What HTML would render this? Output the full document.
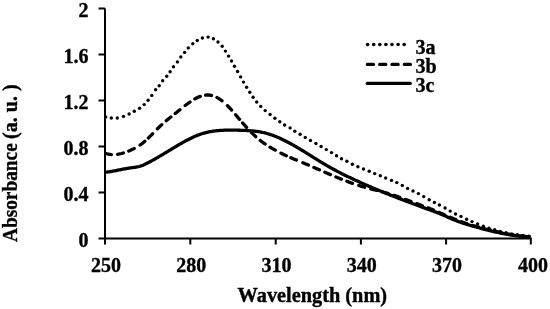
<!DOCTYPE html>
<html><head><meta charset="utf-8"><style>
html,body{margin:0;padding:0;background:#fff;width:550px;height:309px;overflow:hidden}
svg{display:block;filter:grayscale(1)}
text{font-family:"Liberation Serif",serif;font-weight:bold;font-size:20px;fill:#000;stroke:#000;stroke-width:0.35px}
circle{fill:#000}
.ax{stroke:#000;stroke-width:2;fill:none}
.c{stroke:#000;stroke-width:3.3;fill:none;stroke-linejoin:round}
</style></head><body>
<svg width="550" height="309" viewBox="0 0 550 309">
<path d="M105.00 172.29 106.00 172.19 107.00 172.08 108.00 171.95 109.00 171.81 110.00 171.66 111.00 171.50 112.00 171.33 113.00 171.15 114.00 170.97 115.00 170.78 115.99 170.58 116.99 170.39 117.99 170.19 118.99 169.98 119.99 169.78 120.99 169.58 121.99 169.38 122.99 169.18 123.99 168.98 124.99 168.80 125.99 168.61 126.99 168.44 127.99 168.27 128.99 168.11 129.99 167.96 130.99 167.82 131.99 167.70 132.99 167.57 133.99 167.44 134.99 167.30 135.99 167.14 136.98 166.96 137.98 166.76 138.98 166.52 139.98 166.25 140.98 165.93 141.98 165.57 142.98 165.18 143.98 164.75 144.98 164.29 145.98 163.81 146.98 163.31 147.98 162.80 148.98 162.27 149.98 161.74 150.98 161.20 151.98 160.66 152.98 160.10 153.98 159.54 154.98 158.98 155.98 158.41 156.98 157.84 157.98 157.26 158.97 156.68 159.97 156.09 160.97 155.50 161.97 154.91 162.97 154.31 163.97 153.71 164.97 153.11 165.97 152.51 166.97 151.91 167.97 151.30 168.97 150.70 169.97 150.09 170.97 149.49 171.97 148.88 172.97 148.28 173.97 147.68 174.97 147.08 175.97 146.48 176.97 145.88 177.97 145.29 178.97 144.70 179.96 144.12 180.96 143.54 181.96 142.97 182.96 142.40 183.96 141.84 184.96 141.29 185.96 140.74 186.96 140.21 187.96 139.69 188.96 139.17 189.96 138.67 190.96 138.18 191.96 137.70 192.96 137.23 193.96 136.78 194.96 136.34 195.96 135.92 196.96 135.51 197.96 135.12 198.96 134.74 199.96 134.38 200.95 134.04 201.95 133.72 202.95 133.42 203.95 133.13 204.95 132.86 205.95 132.60 206.95 132.36 207.95 132.14 208.95 131.93 209.95 131.73 210.95 131.55 211.95 131.38 212.95 131.23 213.95 131.09 214.95 130.96 215.95 130.84 216.95 130.73 217.95 130.63 218.95 130.54 219.95 130.47 220.95 130.40 221.95 130.34 222.94 130.29 223.94 130.24 224.94 130.21 225.94 130.18 226.94 130.16 227.94 130.14 228.94 130.13 229.94 130.13 230.94 130.12 231.94 130.13 232.94 130.14 233.94 130.15 234.94 130.16 235.94 130.18 236.94 130.19 237.94 130.21 238.94 130.23 239.94 130.26 240.94 130.28 241.94 130.31 242.94 130.34 243.93 130.38 244.93 130.42 245.93 130.46 246.93 130.51 247.93 130.57 248.93 130.63 249.93 130.70 250.93 130.78 251.93 130.86 252.93 130.96 253.93 131.06 254.93 131.17 255.93 131.30 256.93 131.43 257.93 131.58 258.93 131.74 259.93 131.91 260.93 132.09 261.93 132.28 262.93 132.50 263.93 132.72 264.92 132.96 265.92 133.21 266.92 133.49 267.92 133.77 268.92 134.07 269.92 134.39 270.92 134.72 271.92 135.06 272.92 135.42 273.92 135.79 274.92 136.17 275.92 136.57 276.92 136.98 277.92 137.40 278.92 137.83 279.92 138.28 280.92 138.73 281.92 139.20 282.92 139.67 283.92 140.16 284.92 140.65 285.92 141.16 286.91 141.67 287.91 142.19 288.91 142.72 289.91 143.26 290.91 143.81 291.91 144.36 292.91 144.92 293.91 145.49 294.91 146.06 295.91 146.64 296.91 147.23 297.91 147.82 298.91 148.42 299.91 149.02 300.91 149.62 301.91 150.23 302.91 150.84 303.91 151.46 304.91 152.08 305.91 152.70 306.91 153.32 307.90 153.95 308.90 154.57 309.90 155.20 310.90 155.83 311.90 156.46 312.90 157.09 313.90 157.71 314.90 158.34 315.90 158.96 316.90 159.59 317.90 160.21 318.90 160.82 319.90 161.44 320.90 162.05 321.90 162.65 322.90 163.25 323.90 163.85 324.90 164.44 325.90 165.02 326.90 165.60 327.90 166.17 328.89 166.74 329.89 167.30 330.89 167.86 331.89 168.41 332.89 168.96 333.89 169.50 334.89 170.03 335.89 170.57 336.89 171.10 337.89 171.62 338.89 172.14 339.89 172.65 340.89 173.16 341.89 173.67 342.89 174.18 343.89 174.67 344.89 175.17 345.89 175.66 346.89 176.15 347.89 176.64 348.89 177.12 349.88 177.60 350.88 178.07 351.88 178.55 352.88 179.02 353.88 179.48 354.88 179.95 355.88 180.41 356.88 180.87 357.88 181.33 358.88 181.78 359.88 182.23 360.88 182.68 361.88 183.13 362.88 183.58 363.88 184.02 364.88 184.46 365.88 184.90 366.88 185.33 367.88 185.77 368.88 186.20 369.88 186.63 370.88 187.06 371.87 187.48 372.87 187.91 373.87 188.33 374.87 188.75 375.87 189.17 376.87 189.58 377.87 190.00 378.87 190.41 379.87 190.82 380.87 191.23 381.87 191.64 382.87 192.05 383.87 192.46 384.87 192.86 385.87 193.26 386.87 193.67 387.87 194.07 388.87 194.46 389.87 194.86 390.87 195.26 391.87 195.65 392.86 196.05 393.86 196.44 394.86 196.83 395.86 197.22 396.86 197.61 397.86 198.00 398.86 198.39 399.86 198.77 400.86 199.16 401.86 199.54 402.86 199.92 403.86 200.30 404.86 200.68 405.86 201.06 406.86 201.44 407.86 201.82 408.86 202.20 409.86 202.57 410.86 202.95 411.86 203.32 412.86 203.69 413.85 204.07 414.85 204.44 415.85 204.81 416.85 205.18 417.85 205.55 418.85 205.92 419.85 206.28 420.85 206.65 421.85 207.02 422.85 207.38 423.85 207.75 424.85 208.12 425.85 208.48 426.85 208.84 427.85 209.21 428.85 209.57 429.85 209.93 430.85 210.29 431.85 210.66 432.85 211.02 433.85 211.39 434.85 211.76 435.84 212.13 436.84 212.51 437.84 212.90 438.84 213.29 439.84 213.69 440.84 214.10 441.84 214.52 442.84 214.95 443.84 215.39 444.84 215.84 445.84 216.29 446.84 216.74 447.84 217.19 448.84 217.64 449.84 218.08 450.84 218.52 451.84 218.95 452.84 219.38 453.84 219.79 454.84 220.19 455.84 220.58 456.83 220.96 457.83 221.34 458.83 221.70 459.83 222.05 460.83 222.40 461.83 222.74 462.83 223.07 463.83 223.40 464.83 223.72 465.83 224.03 466.83 224.34 467.83 224.64 468.83 224.94 469.83 225.23 470.83 225.52 471.83 225.81 472.83 226.09 473.83 226.37 474.83 226.65 475.83 226.93 476.83 227.21 477.82 227.48 478.82 227.75 479.82 228.03 480.82 228.30 481.82 228.56 482.82 228.83 483.82 229.09 484.82 229.35 485.82 229.61 486.82 229.87 487.82 230.12 488.82 230.37 489.82 230.62 490.82 230.86 491.82 231.10 492.82 231.34 493.82 231.57 494.82 231.80 495.82 232.03 496.82 232.26 497.82 232.48 498.82 232.69 499.81 232.91 500.81 233.11 501.81 233.32 502.81 233.52 503.81 233.71 504.81 233.90 505.81 234.09 506.81 234.27 507.81 234.45 508.81 234.62 509.81 234.78 510.81 234.94 511.81 235.10 512.81 235.25 513.81 235.39 514.81 235.53 515.81 235.66 516.81 235.79 517.81 235.91 518.81 236.03 519.81 236.13 520.80 236.24 521.80 236.33 522.80 236.42 523.80 236.50 524.80 236.58 525.80 236.65 526.80 236.71 527.80 236.76 528.80 236.81 529.80 236.85 530.80 236.88" class="c"/>
<path d="M106.50 153.74 107.50 153.98 108.50 154.18 109.50 154.34 110.50 154.46 111.50 154.54 112.50 154.59 113.50 154.60 114.51 154.57 115.51 154.51 116.51 154.42 117.51 154.30 118.51 154.14 119.51 153.96 120.51 153.75 121.51 153.51 122.51 153.24 123.51 152.95 124.51 152.64 125.51 152.30 126.51 151.94 127.51 151.55 128.52 151.15 129.52 150.73 130.52 150.29 131.52 149.83 132.52 149.35 133.52 148.86 134.52 148.35 135.52 147.81 136.52 147.25 137.52 146.66 138.52 146.04 139.52 145.39 140.52 144.70 141.52 143.97 142.53 143.21 143.53 142.40 144.53 141.55 145.53 140.67 146.53 139.76 147.53 138.82 148.53 137.86 149.53 136.87 150.53 135.87 151.53 134.86 152.53 133.83 153.53 132.80 154.53 131.77 155.53 130.74 156.54 129.72 157.54 128.71 158.54 127.72 159.54 126.74 160.54 125.79 161.54 124.86 162.54 123.95 163.54 123.06 164.54 122.18 165.54 121.32 166.54 120.47 167.54 119.64 168.54 118.81 169.54 118.00 170.55 117.19 171.55 116.39 172.55 115.59 173.55 114.80 174.55 114.00 175.55 113.21 176.55 112.42 177.55 111.62 178.55 110.82 179.55 110.02 180.55 109.22 181.55 108.41 182.55 107.61 183.55 106.82 184.56 106.03 185.56 105.26 186.56 104.49 187.56 103.74 188.56 103.01 189.56 102.30 190.56 101.60 191.56 100.93 192.56 100.29 193.56 99.67 194.56 99.08 195.56 98.52 196.56 97.99 197.56 97.50 198.57 97.05 199.57 96.64 200.57 96.26 201.57 95.93 202.57 95.65 203.57 95.41 204.57 95.22 205.57 95.09 206.57 95.01 207.57 94.98 208.57 95.01 209.57 95.10 210.57 95.25 211.57 95.46 212.57 95.72 213.58 96.04 214.58 96.42 215.58 96.85 216.58 97.33 217.58 97.86 218.58 98.45 219.58 99.08 220.58 99.76 221.58 100.48 222.58 101.25 223.58 102.07 224.58 102.93 225.58 103.83 226.58 104.77 227.59 105.75 228.59 106.77 229.59 107.83 230.59 108.92 231.59 110.04 232.59 111.18 233.59 112.35 234.59 113.52 235.59 114.71 236.59 115.90 237.59 117.08 238.59 118.27 239.59 119.44 240.59 120.61 241.60 121.77 242.60 122.92 243.60 124.06 244.60 125.19 245.60 126.31 246.60 127.41 247.60 128.49 248.60 129.56 249.60 130.61 250.60 131.64 251.60 132.66 252.60 133.65 253.60 134.62 254.60 135.56 255.61 136.49 256.61 137.39 257.61 138.26 258.61 139.11 259.61 139.94 260.61 140.74 261.61 141.51 262.61 142.26 263.61 142.99 264.61 143.69 265.61 144.37 266.61 145.03 267.61 145.68 268.61 146.30 269.62 146.91 270.62 147.51 271.62 148.10 272.62 148.67 273.62 149.24 274.62 149.80 275.62 150.35 276.62 150.89 277.62 151.42 278.62 151.95 279.62 152.46 280.62 152.97 281.62 153.47 282.62 153.96 283.63 154.45 284.63 154.92 285.63 155.39 286.63 155.86 287.63 156.31 288.63 156.76 289.63 157.20 290.63 157.64 291.63 158.08 292.63 158.51 293.63 158.93 294.63 159.36 295.63 159.78 296.63 160.19 297.64 160.61 298.64 161.02 299.64 161.44 300.64 161.85 301.64 162.27 302.64 162.68 303.64 163.10 304.64 163.51 305.64 163.93 306.64 164.35 307.64 164.78 308.64 165.20 309.64 165.63 310.64 166.06 311.65 166.49 312.65 166.92 313.65 167.35 314.65 167.79 315.65 168.22 316.65 168.66 317.65 169.09 318.65 169.53 319.65 169.96 320.65 170.40 321.65 170.84 322.65 171.27 323.65 171.71 324.65 172.14 325.65 172.58 326.66 173.01 327.66 173.44 328.66 173.87 329.66 174.30 330.66 174.73 331.66 175.16 332.66 175.58 333.66 176.00 334.66 176.42 335.66 176.84 336.66 177.26 337.66 177.67 338.66 178.08 339.66 178.49 340.67 178.89 341.67 179.29 342.67 179.69 343.67 180.08 344.67 180.47 345.67 180.86 346.67 181.24 347.67 181.62 348.67 181.99 349.67 182.36 350.67 182.73 351.67 183.09 352.67 183.44 353.67 183.79 354.68 184.13 355.68 184.47 356.68 184.81 357.68 185.13 358.68 185.46 359.68 185.77 360.68 186.08 361.68 186.38 362.68 186.68 363.68 186.97 364.68 187.25 365.68 187.53 366.68 187.81 367.68 188.08 368.69 188.35 369.69 188.61 370.69 188.87 371.69 189.13 372.69 189.39 373.69 189.65 374.69 189.90 375.69 190.16 376.69 190.41 377.69 190.67 378.69 190.93 379.69 191.18 380.69 191.45 381.69 191.71 382.70 191.97 383.70 192.24 384.70 192.52 385.70 192.79 386.70 193.08 387.70 193.36 388.70 193.66 389.70 193.95 390.70 194.26 391.70 194.57 392.70 194.89 393.70 195.22 394.70 195.56 395.70 195.90 396.71 196.25 397.71 196.60 398.71 196.96 399.71 197.33 400.71 197.69 401.71 198.06 402.71 198.43 403.71 198.80 404.71 199.17 405.71 199.54 406.71 199.91 407.71 200.28 408.71 200.65 409.71 201.02 410.72 201.38 411.72 201.75 412.72 202.12 413.72 202.48 414.72 202.85 415.72 203.22 416.72 203.59 417.72 203.96 418.72 204.33 419.72 204.70 420.72 205.07 421.72 205.45 422.72 205.83 423.72 206.21 424.72 206.59 425.73 206.98 426.73 207.36 427.73 207.76 428.73 208.15 429.73 208.55 430.73 208.96 431.73 209.36 432.73 209.77 433.73 210.19 434.73 210.61 435.73 211.03 436.73 211.46 437.73 211.89 438.73 212.32 439.74 212.75 440.74 213.18 441.74 213.61 442.74 214.05 443.74 214.48 444.74 214.92 445.74 215.35 446.74 215.78 447.74 216.21 448.74 216.64 449.74 217.07 450.74 217.50 451.74 217.92 452.74 218.34 453.75 218.75 454.75 219.16 455.75 219.57 456.75 219.97 457.75 220.37 458.75 220.76 459.75 221.14 460.75 221.52 461.75 221.90 462.75 222.26 463.75 222.62 464.75 222.97 465.75 223.31 466.75 223.64 467.76 223.97 468.76 224.29 469.76 224.61 470.76 224.92 471.76 225.22 472.76 225.51 473.76 225.81 474.76 226.09 475.76 226.37 476.76 226.65 477.76 226.92 478.76 227.19 479.76 227.46 480.76 227.72 481.77 227.98 482.77 228.24 483.77 228.49 484.77 228.75 485.77 229.00 486.77 229.25 487.77 229.50 488.77 229.75 489.77 229.99 490.77 230.24 491.77 230.48 492.77 230.73 493.77 230.97 494.77 231.20 495.78 231.44 496.78 231.67 497.78 231.90 498.78 232.13 499.78 232.36 500.78 232.58 501.78 232.80 502.78 233.01 503.78 233.22 504.78 233.43 505.78 233.63 506.78 233.82 507.78 234.02 508.78 234.20 509.79 234.39 510.79 234.56 511.79 234.73 512.79 234.90 513.79 235.06 514.79 235.21 515.79 235.36 516.79 235.50 517.79 235.63 518.79 235.76 519.79 235.88 520.79 235.99 521.79 236.10 522.79 236.19 523.80 236.28 524.80 236.36 525.80 236.44 526.80 236.50 527.80 236.55 528.80 236.60 529.80 236.64 530.80 236.66" class="c" stroke-linecap="round" stroke-dasharray="5.08,6.07,6.00,5.71,6.00,6.87,6.00,4.87,6.00,6.82,6.00,6.00,6.00,5.52,6.00,6.74,6.00,5.81,6.00,5.41,6.00,5.87,6.00,7.32,6.00,6.24,6.00,4.71,6.00,7.04,6.00,5.82,6.00,5.89,6.00,6.43,6.00,4.97,6.00,7.01,6.00,5.98,6.00,6.00,6.00,5.95,6.00,5.81,6.00,6.67,6.00,6.45,6.00,6.07,6.00,6.07,6.00,6.07,6.00,6.07,6.00,6.07,6.00,6.07,6.00,6.07,6.00,6.07,6.00,6.07,6.00,6.07,6.00,6.07,6.00,6.07,6.00,6.07,6.00,6.07,6.00,1000.00"/>
<g><circle cx="105.7" cy="116.9" r="1.7"/><circle cx="111.3" cy="118.0" r="1.7"/><circle cx="117.3" cy="118.0" r="1.7"/><circle cx="123.5" cy="116.4" r="1.7"/><circle cx="129.1" cy="114.0" r="1.7"/><circle cx="134.3" cy="111.2" r="1.7"/><circle cx="139.6" cy="108.3" r="1.7"/><circle cx="144.2" cy="104.6" r="1.7"/><circle cx="148.1" cy="100.2" r="1.7"/><circle cx="151.8" cy="95.4" r="1.7"/><circle cx="155.6" cy="89.8" r="1.7"/><circle cx="159.2" cy="85.7" r="1.7"/><circle cx="162.7" cy="80.7" r="1.7"/><circle cx="166.7" cy="76.2" r="1.7"/><circle cx="170.1" cy="71.7" r="1.7"/><circle cx="173.5" cy="66.7" r="1.7"/><circle cx="177.4" cy="61.9" r="1.7"/><circle cx="180.8" cy="56.9" r="1.7"/><circle cx="184.6" cy="52.4" r="1.7"/><circle cx="188.3" cy="47.9" r="1.7"/><circle cx="192.8" cy="43.8" r="1.7"/><circle cx="197.3" cy="40.5" r="1.7"/><circle cx="202.4" cy="38.0" r="1.7"/><circle cx="208.1" cy="37.1" r="1.7"/><circle cx="213.4" cy="38.7" r="1.7"/><circle cx="218.0" cy="42.0" r="1.7"/><circle cx="222.2" cy="46.2" r="1.7"/><circle cx="225.4" cy="51.1" r="1.7"/><circle cx="228.6" cy="56.1" r="1.7"/><circle cx="231.5" cy="61.0" r="1.7"/><circle cx="234.5" cy="66.2" r="1.7"/><circle cx="237.6" cy="71.5" r="1.7"/><circle cx="240.6" cy="76.9" r="1.7"/><circle cx="243.5" cy="82.1" r="1.7"/><circle cx="246.6" cy="87.3" r="1.7"/><circle cx="249.8" cy="92.3" r="1.7"/><circle cx="253.1" cy="97.2" r="1.7"/><circle cx="256.7" cy="102.0" r="1.7"/><circle cx="260.7" cy="106.4" r="1.7"/><circle cx="265.2" cy="110.6" r="1.7"/><circle cx="270.1" cy="114.5" r="1.7"/><circle cx="274.9" cy="118.2" r="1.7"/><circle cx="279.8" cy="121.7" r="1.7"/><circle cx="284.6" cy="125.0" r="1.7"/><circle cx="290.1" cy="127.9" r="1.7"/><circle cx="294.8" cy="131.3" r="1.7"/><circle cx="300.1" cy="134.3" r="1.7"/><circle cx="305.3" cy="137.4" r="1.7"/><circle cx="310.5" cy="140.5" r="1.7"/><circle cx="315.9" cy="143.5" r="1.7"/><circle cx="321.1" cy="146.5" r="1.7"/><circle cx="326.3" cy="149.6" r="1.7"/><circle cx="331.5" cy="152.6" r="1.7"/><circle cx="336.5" cy="155.8" r="1.7"/><circle cx="341.5" cy="158.7" r="1.7"/><circle cx="346.9" cy="161.3" r="1.7"/><circle cx="352.4" cy="164.2" r="1.7"/><circle cx="357.9" cy="166.8" r="1.7"/><circle cx="363.5" cy="169.0" r="1.7"/><circle cx="369.2" cy="171.3" r="1.7"/><circle cx="374.7" cy="173.6" r="1.7"/><circle cx="380.3" cy="175.8" r="1.7"/><circle cx="385.7" cy="178.0" r="1.7"/><circle cx="391.5" cy="180.4" r="1.7"/><circle cx="396.8" cy="182.6" r="1.7"/><circle cx="402.3" cy="185.4" r="1.7"/><circle cx="407.6" cy="188.4" r="1.7"/><circle cx="413.0" cy="191.0" r="1.7"/><circle cx="418.4" cy="193.6" r="1.7"/><circle cx="423.7" cy="196.6" r="1.7"/><circle cx="429.2" cy="199.7" r="1.7"/><circle cx="434.4" cy="202.4" r="1.7"/><circle cx="439.4" cy="205.0" r="1.7"/><circle cx="445.1" cy="208.0" r="1.7"/><circle cx="450.2" cy="211.1" r="1.7"/><circle cx="455.5" cy="214.0" r="1.7"/><circle cx="461.0" cy="216.4" r="1.7"/><circle cx="466.6" cy="219.2" r="1.7"/><circle cx="472.0" cy="221.6" r="1.7"/><circle cx="477.6" cy="224.0" r="1.7"/><circle cx="483.3" cy="226.3" r="1.7"/><circle cx="489.0" cy="228.2" r="1.7"/><circle cx="494.7" cy="229.8" r="1.7"/><circle cx="500.3" cy="231.4" r="1.7"/><circle cx="506.0" cy="232.6" r="1.7"/><circle cx="511.7" cy="233.9" r="1.7"/><circle cx="517.3" cy="234.7" r="1.7"/><circle cx="523.0" cy="235.5" r="1.7"/><circle cx="528.7" cy="236.3" r="1.7"/></g>
<path d="M105 8.5V238.5H531.8" class="ax"/>
<path d="M105.0 238.5V244.5" class="ax"/>
<path d="M190.3 238.5V244.5" class="ax"/>
<path d="M275.7 238.5V244.5" class="ax"/>
<path d="M360.9 238.5V244.5" class="ax"/>
<path d="M446.1 238.5V244.5" class="ax"/>
<path d="M530.8 238.5V244.5" class="ax"/>
<path d="M98.5 238.5H105" class="ax"/>
<path d="M98.5 192.5H105" class="ax"/>
<path d="M98.5 146.5H105" class="ax"/>
<path d="M98.5 100.5H105" class="ax"/>
<path d="M98.5 54.5H105" class="ax"/>
<path d="M98.5 8.5H105" class="ax"/>
<text x="106.0" y="271.9" text-anchor="middle">250</text>
<text x="191.2" y="271.9" text-anchor="middle">280</text>
<text x="276.5" y="271.9" text-anchor="middle">310</text>
<text x="361.7" y="271.9" text-anchor="middle">340</text>
<text x="447.0" y="271.9" text-anchor="middle">370</text>
<text x="533.0" y="271.9" text-anchor="middle">400</text>
<text x="88.6" y="247.1" text-anchor="end">0</text>
<text x="88.6" y="201.1" text-anchor="end">0.4</text>
<text x="88.6" y="155.1" text-anchor="end">0.8</text>
<text x="88.6" y="109.1" text-anchor="end">1.2</text>
<text x="88.6" y="63.1" text-anchor="end">1.6</text>
<text x="88.6" y="17.1" text-anchor="end">2</text>
<text transform="translate(312.3 302.4) scale(1.016 1)" text-anchor="middle">Wavelength (nm)</text>
<text transform="translate(17.2 242) rotate(-90) scale(0.966 1)">Absorbance</text>
<text transform="translate(17.2 138.9) rotate(-90)">(a. u. )</text>
<g><circle cx="367.6" cy="44.5" r="1.8"/><circle cx="373.7" cy="44.5" r="1.8"/><circle cx="379.8" cy="44.5" r="1.8"/><circle cx="385.9" cy="44.5" r="1.8"/><circle cx="392.0" cy="44.5" r="1.8"/><circle cx="398.1" cy="44.5" r="1.8"/><circle cx="404.2" cy="44.5" r="1.8"/></g>
<path d="M367.4 64.4H411" class="c" stroke-linecap="round" stroke-dasharray="6.1 6.2"/>
<path d="M367.3 83.4H410.2" class="c" stroke-linecap="round"/>
<text x="415.6" y="53.5">3a</text>
<text x="415.6" y="72.7">3b</text>
<text x="415.6" y="92">3c</text>
</svg>
</body></html>
